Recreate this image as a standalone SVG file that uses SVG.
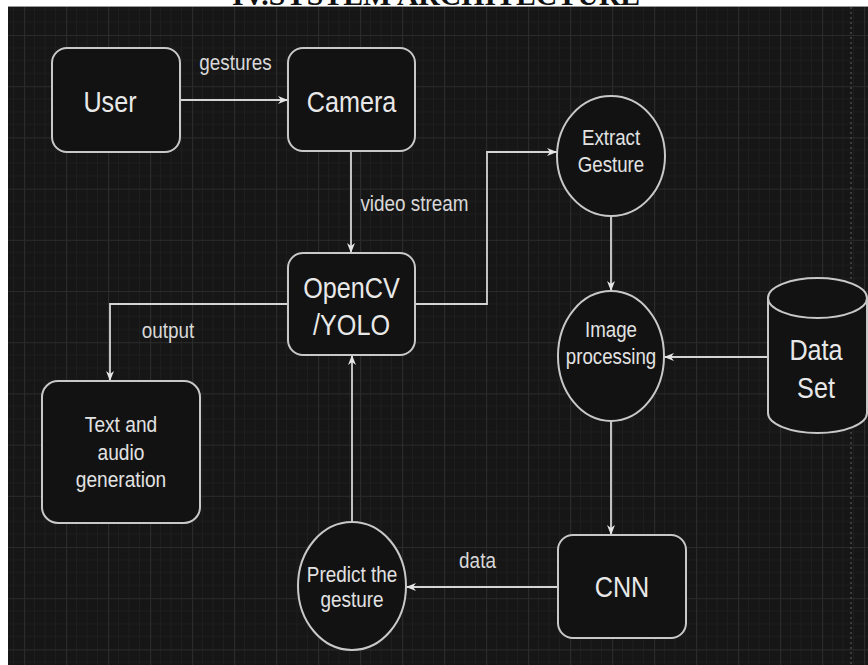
<svg xmlns="http://www.w3.org/2000/svg" width="868" height="665" viewBox="0 0 868 665">
  <defs>
    <!-- draw.io style dark canvas grid: major cells with 4 minor subdivisions -->
    <pattern id="grid" x="24" y="35" width="42" height="51.2" patternUnits="userSpaceOnUse">
      <path d="M10.5,0V51.2M21,0V51.2M31.5,0V51.2M0,12.8H42M0,25.6H42M0,38.4H42" stroke="#1e1e1e" stroke-width="1" fill="none"/>
      <path d="M0.5,0V51.2M0,0.5H42" stroke="#2b2b2b" stroke-width="1.2" fill="none"/>
    </pattern>
    <marker id="arrow" markerWidth="11" markerHeight="9" refX="10" refY="4.5" orient="auto" markerUnits="userSpaceOnUse">
      <path d="M0,0.5 L10,4.5 L0,8.5 L3,4.5 z" fill="#e6e6e6"/>
    </marker>
    <style>
      .shape { fill: #121212; stroke: #c8c8c8; stroke-width: 2; }
      .edge { fill: none; stroke: #d4d4d4; stroke-width: 1.8; marker-end: url(#arrow); }
      .big { font-family: "Liberation Sans", Arial, sans-serif; font-size: 30px; fill: #e8e8e8; text-anchor: middle; }
      .mid { font-family: "Liberation Sans", Arial, sans-serif; font-size: 22px; fill: #e2e2e2; text-anchor: middle; }
      .lbl { font-family: "Liberation Sans", Arial, sans-serif; font-size: 22px; fill: #d8d8d8; text-anchor: middle; }
      .title { font-family: "Liberation Serif", "Times New Roman", serif; font-size: 29px; font-weight: bold; fill: #111; }
    </style>
  </defs>

  <!-- page -->
  <rect x="0" y="0" width="868" height="665" fill="#ffffff"/>
  <text class="title" x="232" y="5" textLength="408" lengthAdjust="spacingAndGlyphs">IV.SYSTEM ARCHITECTURE</text>
  <rect x="8" y="6" width="860" height="659" fill="#161616"/>
  <rect x="8" y="6" width="860" height="659" fill="url(#grid)"/>
  <line x1="8" y1="6.5" x2="868" y2="6.5" stroke="#9a9a9a" stroke-width="1"/>
  <line x1="851" y1="7" x2="851" y2="665" stroke="#3c3c3c" stroke-width="2" stroke-dasharray="2 3"/>

  <!-- connectors -->
  <g id="connectors">
    <path class="edge" d="M180,100 H288"/>
    <path class="edge" d="M351,151 V253"/>
    <path class="edge" d="M415,304 H487 V152 H557"/>
    <path class="edge" d="M611,216 V291"/>
    <path class="edge" d="M768,357 H664"/>
    <path class="edge" d="M611,421 V535"/>
    <path class="edge" d="M558,587 H406"/>
    <path class="edge" d="M352,522 V355"/>
    <path class="edge" d="M288,304 H110 V381"/>
    <text class="lbl" transform="translate(235.5,0) scale(0.86,1)" x="0" y="70">gestures</text>
    <text class="lbl" transform="translate(414.5,0) scale(0.86,1)" x="0" y="211">video stream</text>
    <text class="lbl" transform="translate(168,0) scale(0.86,1)" x="0" y="338">output</text>
    <text class="lbl" transform="translate(477.5,0) scale(0.86,1)" x="0" y="568">data</text>
  </g>

  <!-- nodes -->
  <g id="user">
    <rect class="shape" x="52" y="48" width="128" height="104" rx="15"/>
    <text class="big" transform="translate(110,0) scale(0.84,1)" x="0" y="112">User</text>
  </g>
  <g id="camera">
    <rect class="shape" x="288" y="48" width="127" height="103" rx="15"/>
    <text class="big" transform="translate(351.5,0) scale(0.84,1)" x="0" y="112">Camera</text>
  </g>
  <g id="opencv-yolo">
    <rect class="shape" x="288" y="253" width="127" height="102" rx="15"/>
    <text class="big" transform="translate(351.5,0) scale(0.84,1)" x="0" y="298">OpenCV</text>
    <text class="big" transform="translate(351.5,0) scale(0.84,1)" x="0" y="335">/YOLO</text>
  </g>
  <g id="extract-gesture">
    <ellipse class="shape" cx="611" cy="156" rx="54" ry="60"/>
    <text class="mid" transform="translate(611,0) scale(0.85,1)" x="0" y="145">Extract</text>
    <text class="mid" transform="translate(611,0) scale(0.85,1)" x="0" y="172">Gesture</text>
  </g>
  <g id="image-processing">
    <ellipse class="shape" cx="611" cy="356" rx="53" ry="65"/>
    <text class="mid" transform="translate(611,0) scale(0.85,1)" x="0" y="337">Image</text>
    <text class="mid" transform="translate(611,0) scale(0.85,1)" x="0" y="364">processing</text>
  </g>
  <g id="data-set">
    <path class="shape" d="M768,298 A49.5,20 0 0 1 867,298 V413 A49.5,20 0 0 1 768,413 Z"/>
    <path d="M768,298 A49.5,20 0 0 0 867,298" fill="none" stroke="#c8c8c8" stroke-width="2"/>
    <text class="big" transform="translate(816,0) scale(0.84,1)" x="0" y="360">Data</text>
    <text class="big" transform="translate(816,0) scale(0.84,1)" x="0" y="398">Set</text>
  </g>
  <g id="cnn">
    <rect class="shape" x="558" y="535" width="128" height="103" rx="15"/>
    <text class="big" transform="translate(622,0) scale(0.84,1)" x="0" y="597">CNN</text>
  </g>
  <g id="predict-gesture">
    <ellipse class="shape" cx="352" cy="586" rx="54" ry="64"/>
    <text class="mid" transform="translate(352,0) scale(0.86,1)" x="0" y="582">Predict the</text>
    <text class="mid" transform="translate(352,0) scale(0.86,1)" x="0" y="607">gesture</text>
  </g>
  <g id="text-audio">
    <rect class="shape" x="42" y="381" width="158" height="142" rx="16"/>
    <text class="mid" transform="translate(121,0) scale(0.87,1)" x="0" y="432">Text and</text>
    <text class="mid" transform="translate(121,0) scale(0.87,1)" x="0" y="460">audio</text>
    <text class="mid" transform="translate(121,0) scale(0.87,1)" x="0" y="487">generation</text>
  </g>
</svg>
